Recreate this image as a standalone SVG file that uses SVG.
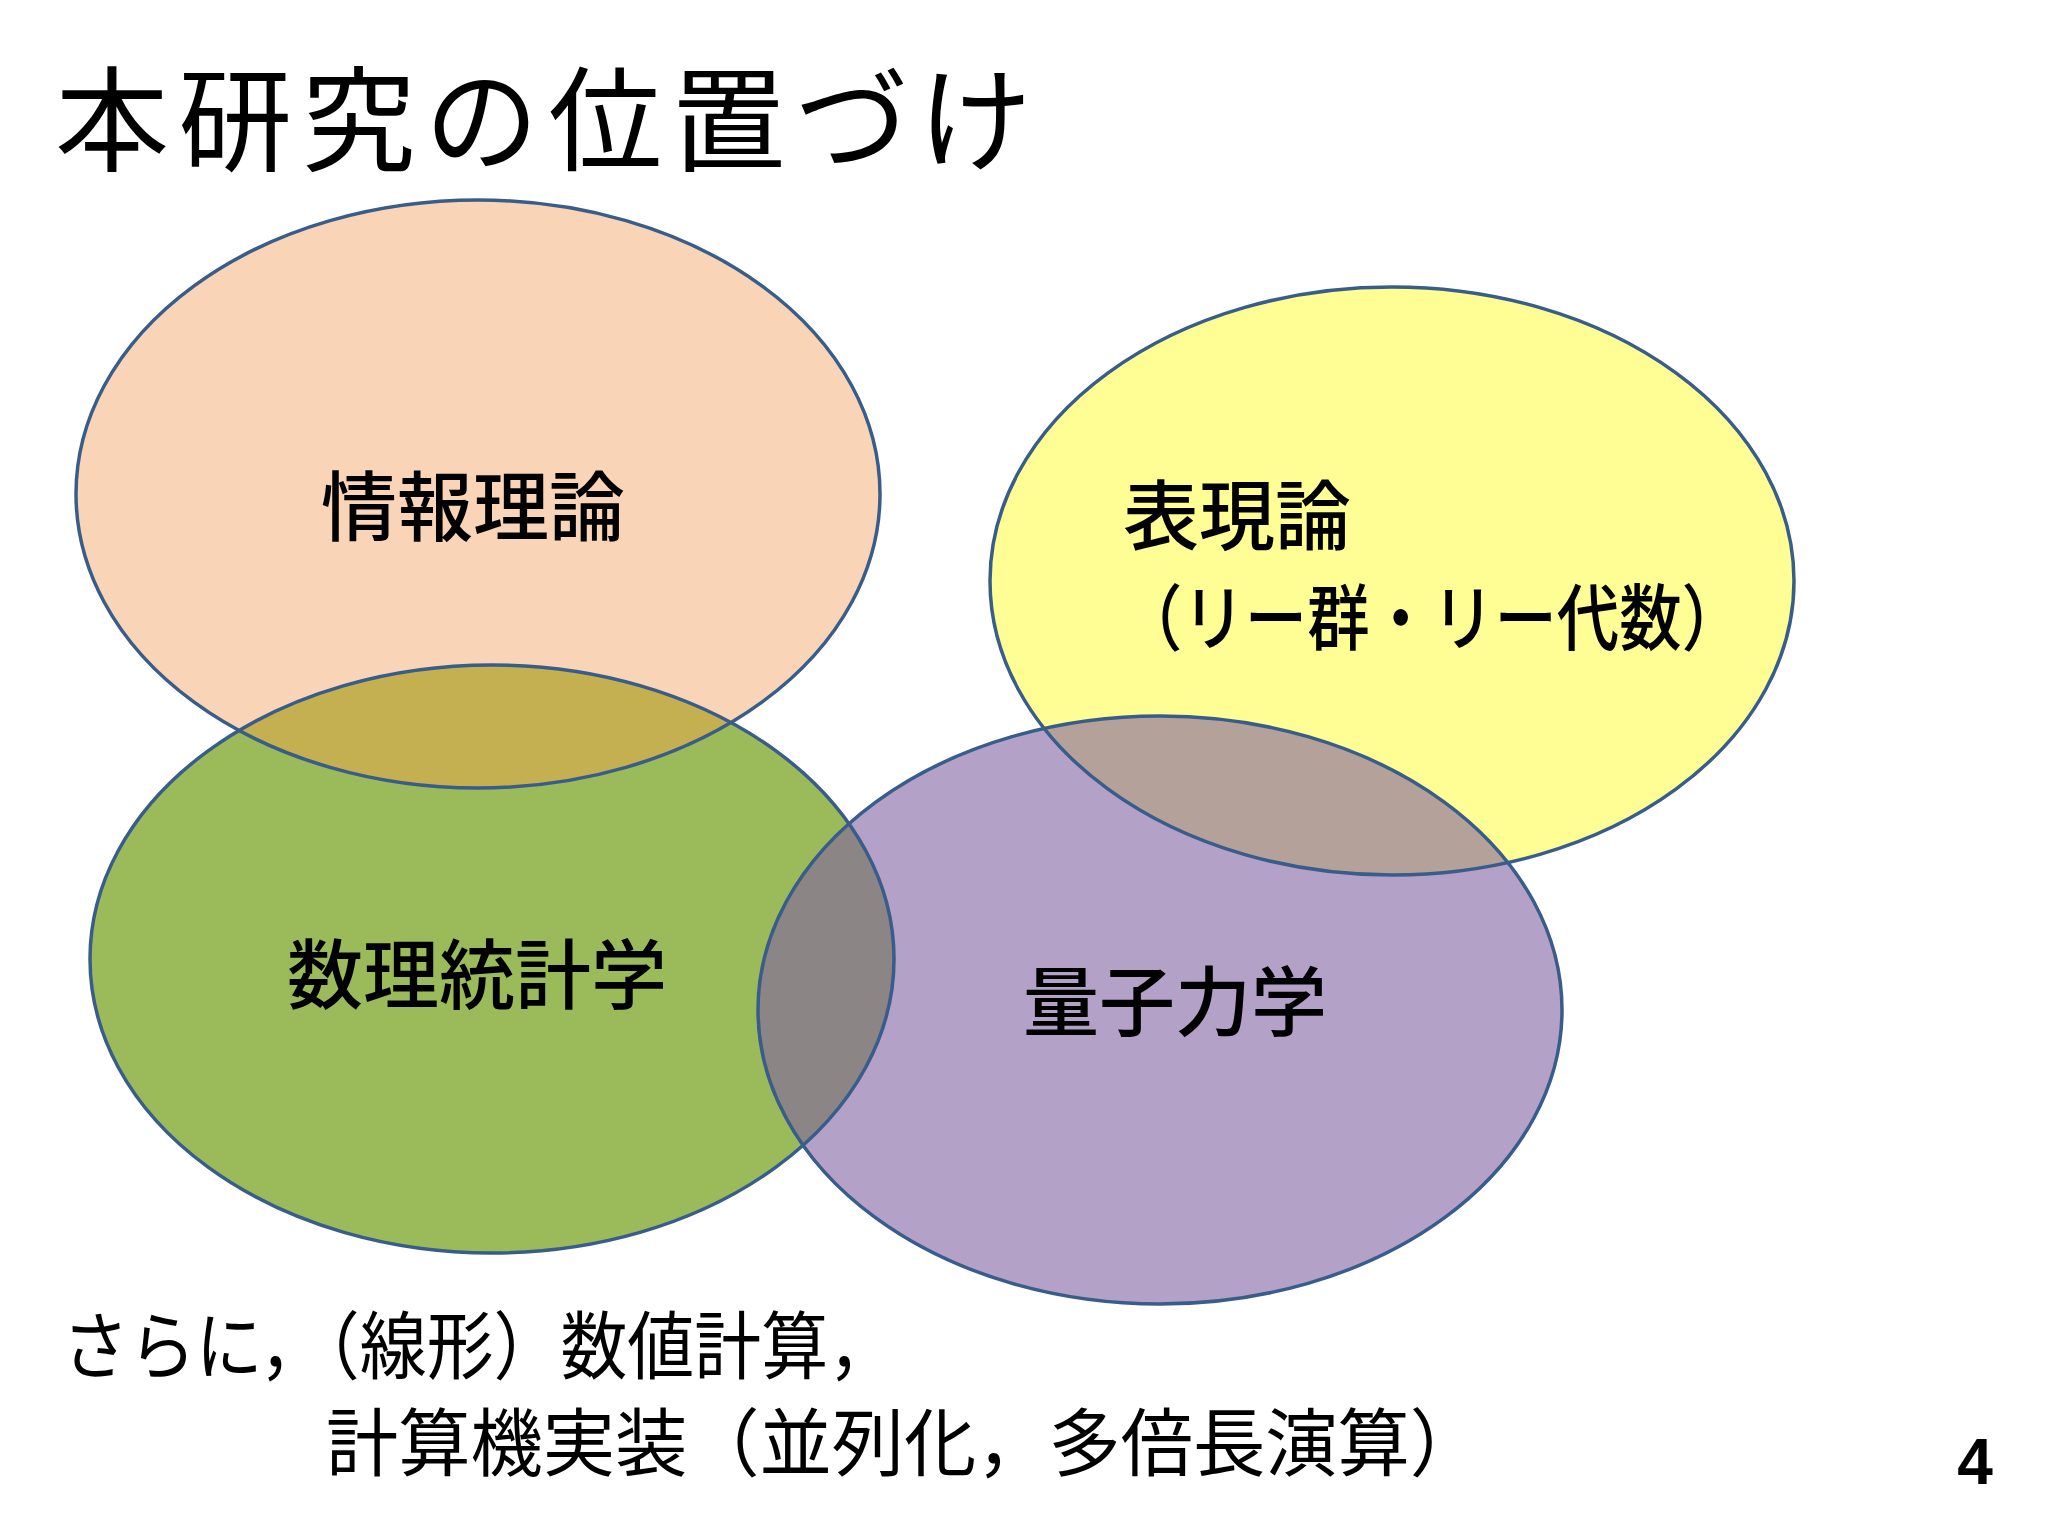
<svg xmlns="http://www.w3.org/2000/svg" width="2048" height="1536" viewBox="0 0 2048 1536">
<style>
text{font-family:"Noto Sans CJK JP","Liberation Sans",sans-serif;fill:#000}
.e{stroke:#385D8A;stroke-width:3.5;fill:none}
.l{font-size:76px;text-anchor:middle;font-weight:500}
</style>
<defs>
<clipPath id="cInfo"><ellipse cx="478" cy="494" rx="402" ry="294"/></clipPath>
<clipPath id="cStat"><ellipse cx="492" cy="959" rx="402" ry="294"/></clipPath>
<clipPath id="cQ"><ellipse cx="1160" cy="1010" rx="402" ry="294"/></clipPath>
</defs>
<rect width="2048" height="1536" fill="#fff"/>
<text x="55" y="162" font-size="114" textLength="977" lengthAdjust="spacing">本研究の位置づけ</text>
<g id="fills">
<ellipse cx="478" cy="494" rx="402" ry="294" fill="#F9D4B6"/>
<ellipse cx="1392" cy="581" rx="402" ry="294" fill="#FEFE94"/>
<ellipse cx="492" cy="959" rx="402" ry="294" fill="#9BBB5A"/>
<ellipse cx="1160" cy="1010" rx="402" ry="294" fill="#B3A1C7"/>
<ellipse cx="478" cy="494" rx="402" ry="294" fill="#C4B050" clip-path="url(#cStat)"/>
<ellipse cx="492" cy="959" rx="402" ry="294" fill="#8B8585" clip-path="url(#cQ)"/>
<ellipse cx="1392" cy="581" rx="402" ry="294" fill="#B4A29A" clip-path="url(#cQ)"/>
</g>
<g id="info"><ellipse class="e" cx="478" cy="494" rx="402" ry="294"/><text class="l" x="473" y="535">情報理論</text></g>
<g id="repr"><ellipse class="e" cx="1392" cy="581" rx="402" ry="294"/><text x="1123" y="544" font-size="76" font-weight="500">表現論</text><text x="1120" y="644" font-size="72" font-weight="500" textLength="624" lengthAdjust="spacingAndGlyphs">（リー群・リー代数）</text></g>
<g id="stat"><ellipse class="e" cx="492" cy="959" rx="402" ry="294"/><text class="l" x="477" y="1003">数理統計学</text></g>
<g id="quant"><ellipse class="e" cx="1160" cy="1010" rx="402" ry="294"/><text class="l" x="1175" y="1030">量子力学</text></g>
<g id="connectors"/>
<text x="62" y="1373" font-size="74" textLength="833" lengthAdjust="spacingAndGlyphs">さらに，（線形）数値計算，</text>
<text x="326" y="1470" font-size="74" textLength="1156" lengthAdjust="spacingAndGlyphs">計算機実装（並列化，多倍長演算）</text>
<text x="1975" y="1484" font-size="64" font-weight="bold" text-anchor="middle" style="font-family:'Liberation Sans',sans-serif">4</text>
</svg>
